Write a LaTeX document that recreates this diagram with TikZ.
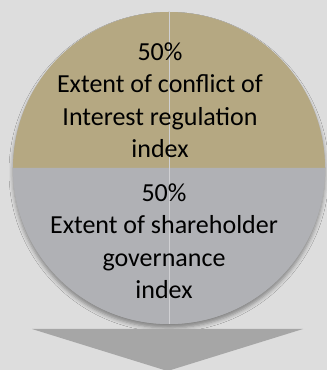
\documentclass[tikz,border=0pt]{standalone}
\usepackage{fontspec}
\setmainfont{Carlito}
\usetikzlibrary{positioning,shadows.blur}
\definecolor{backgr}{RGB}{221,221,221}
\definecolor{tanpart}{RGB}{181,168,130}
\definecolor{graypart}{RGB}{176,177,181}
\definecolor{arrowgray}{RGB}{166,166,166}

\begin{document}
\begin{tikzpicture}[x=1pt, y=1pt]
% Definition of styles:
\tikzset{%
  share/.style = {align=center, font=\fontsize{26}{32.5}\selectfont, inner sep=0pt},
  seam/.style  = {draw=white!40!graypart, line width=0.6pt}
}
\useasboundingbox (0,0) rectangle (327,370);
\fill[backgr] (0,0) rectangle (327,370);

\coordinate (Mid) at (169,202);

% pie with the two halves
\fill[graypart, blur shadow={shadow xshift=0pt, shadow yshift=-4pt, shadow blur radius=4pt, shadow opacity=40}] (Mid) circle (156);
\fill[tanpart] (Mid) ++(-156,0) arc (180:0:156) -- cycle;
\fill[graypart] (Mid) ++(156,0) arc (0:-180:156) -- cycle;
\draw[seam] (Mid) ++(0,156) -- ++(0,-312);

\draw
	node [share] (Upper) at (160,270) {50\%\\Extent of conflict of\\Interest regulation\\index}
	node [share] (Lower) at (164,129) {50\%\\Extent of shareholder\\governance\\index};

% arrow below
\fill[arrowgray] (32,41) -- (303,41) -- (167.5,-1) -- cycle;

\end{tikzpicture}
\end{document}
